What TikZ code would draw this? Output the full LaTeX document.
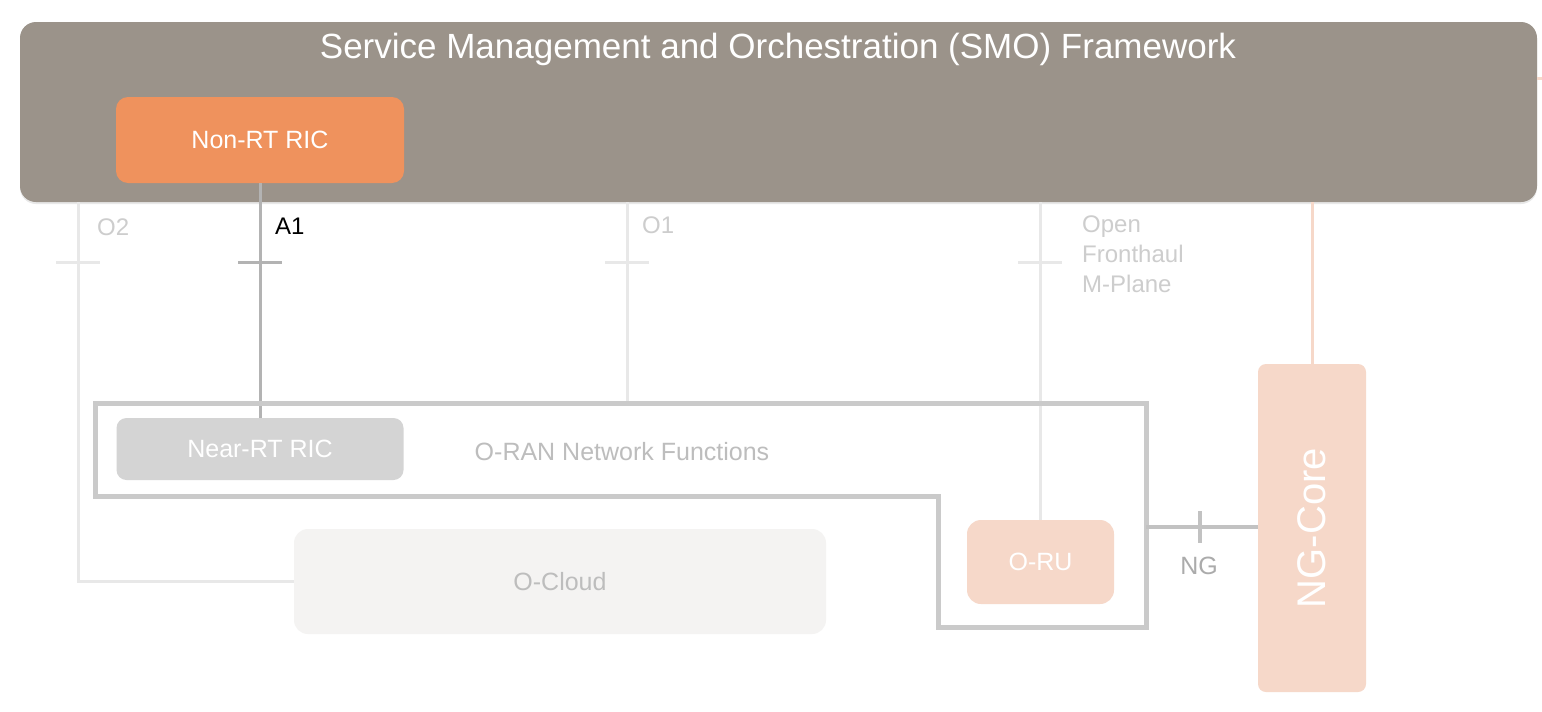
\documentclass[tikz,border=0pt]{standalone}
\usepackage{fontspec}
\setmainfont{Liberation Sans}
\usetikzlibrary{shadows}
\definecolor{smofill}{HTML}{9B938A}
\definecolor{nonrtfill}{HTML}{EF925D}
\definecolor{peach}{HTML}{F6D8C9}
\definecolor{nearfill}{HTML}{D4D4D4}
\definecolor{cloudfill}{HTML}{F4F3F2}
\definecolor{oranline}{HTML}{CACACA}
\definecolor{a1line}{HTML}{B3B3B3}
\definecolor{faintline}{HTML}{E8E8E8}
\definecolor{faintlabel}{HTML}{CDCDCD}
\definecolor{midlabel}{HTML}{BDBDBD}
\definecolor{nglabel}{HTML}{ABABAB}
\definecolor{ngline}{HTML}{C2C2C2}
\begin{document}
\begin{tikzpicture}[x=1pt,y=-1pt,
  fs/.style={font=\fontsize{#1}{#1}\selectfont},
  boxnode/.style={inner sep=0pt, text=white, fs=25},
  faint/.style={draw=faintline, line width=3pt},
  label/.style={anchor=west, inner sep=0pt, fs=24}]
\useasboundingbox (0,0) rectangle (1542,712);
\fill[white] (0,0) rectangle (1542,712);

% SMO framework
\node[boxnode, fill=smofill, rounded corners=16pt, minimum width=1517pt, minimum height=180pt,
  drop shadow={opacity=0.18, shadow xshift=0pt, shadow yshift=-2pt}] (smo) at (778.5,112) {};
\node[text=white, fs=35, inner sep=0pt] (smotitle) at (778,49) {Service Management and Orchestration (SMO) Framework};
\draw[peach, line width=3pt] (smo.east |- 0,78) -- ++(6,0);

\node[boxnode, fill=nonrtfill, rounded corners=12pt, minimum width=288pt, minimum height=86pt] (nonrt) at (260,140) {Non-RT RIC};

\coordinate (nearpos) at (260,449);
\coordinate (cloudpos) at (560,581.5);
\coordinate (orupos) at (1040.5,562);
\coordinate (ngpos) at (1312,528);
\coordinate (o2x) at (78,0);
\coordinate (orantop) at (627,403);
\coordinate (nga) at (1146,527);

\node[boxnode, fill=nearfill, rounded corners=10pt, minimum width=287pt, minimum height=62pt] (nearrt) at (nearpos) {Near-RT RIC};
\node[boxnode, fill=cloudfill, text=midlabel, rounded corners=14pt, minimum width=532pt, minimum height=105pt] (ocloud) at (cloudpos) {O-Cloud};
\node[boxnode, fill=peach, rounded corners=14pt, minimum width=147pt, minimum height=84pt] (oru) at (orupos) {O-RU};
\node[boxnode, fill=peach, rounded corners=8pt, minimum width=108pt, minimum height=328pt] (ngcore) at (ngpos) {};
\node[text=white, fs=40, inner sep=0pt, rotate=90] (ngtext) at (ngpos) {NG-Core};

% O2
\draw[faint] (smo.south -| o2x) |- (ocloud.west);
\draw[faint] (56,262) -- (100,262);
\node[label, text=faintlabel] (o2lab) at (97,227) {O2};

% O1
\draw[faint] (smo.south -| orantop) -- (orantop);
\draw[faint] (605,262) -- (649,262);
\node[label, text=faintlabel] (o1lab) at (642,225) {O1};

% Open Fronthaul M-Plane
\draw[faint] (smo.south -| oru.north) -- (oru.north);
\draw[faint] (1018,262) -- (1062,262);
\node[label, text=faintlabel, align=left, font=\fontsize{24}{30}\selectfont, anchor=north west] (oflab) at (1082,216) {Open\\Fronthaul\\M-Plane};

% NG-Core link to SMO
\draw[peach, line width=3pt] (smo.south -| ngcore.north) -- (ngcore.north);

% A1
\draw[a1line, line width=3pt] (nonrt.south) -- (nearrt.north);
\draw[a1line, line width=3pt] (238,262) -- (282,262);
\node[label, text=black] (a1lab) at (275,226) {A1};

% O-RAN Network Functions outline
\draw[oranline, line width=5pt, line join=miter]
  (95,403) -- (1146,403) -- (1146,627) -- (938,627) -- (938,496) -- (95,496) -- cycle;
\node[text=midlabel, fs=25, inner sep=0pt] (oranlab) at (622,452) {O-RAN Network Functions};

% NG
\draw[ngline, line width=3.5pt] (nga) -- (nga -| ngcore.west);
\draw[ngline, line width=3.5pt] (1200,511) -- (1200,543);
\node[text=nglabel, fs=25, inner sep=0pt] (nglab) at (1199,566) {NG};
\end{tikzpicture}
\end{document}
